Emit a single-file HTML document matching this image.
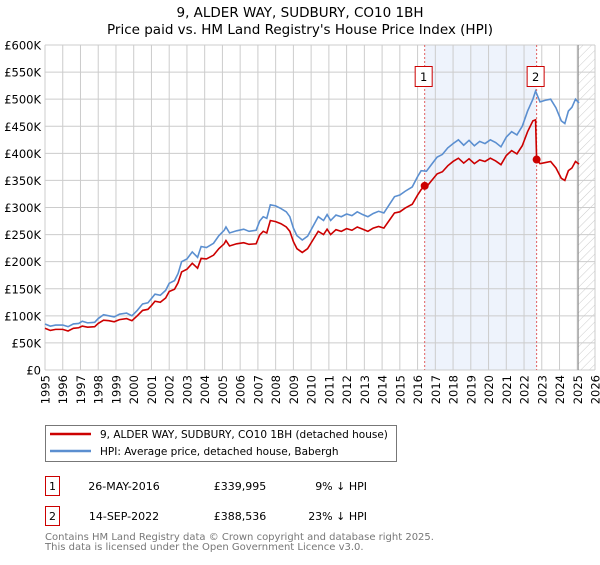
<!DOCTYPE html>
<html><head><meta charset="utf-8"><style>
body{margin:0;background:#fff;font-family:"Liberation Sans","DejaVu Sans",sans-serif}
svg text{font-family:"DejaVu Sans","Liberation Sans",sans-serif}
</style></head><body>
<svg id="chart" width="600" height="560" viewBox="0 0 600 560" xmlns="http://www.w3.org/2000/svg">
<defs><pattern id="hatch" width="6" height="6" patternUnits="userSpaceOnUse" patternTransform="rotate(45)"><line x1="0" y1="0" x2="0" y2="6" stroke="#ccc" stroke-width="1"/></pattern></defs>
<text x="300" y="17" text-anchor="middle" font-size="13.5" fill="#000">9, ALDER WAY, SUDBURY, CO10 1BH</text>
<text x="300" y="34" text-anchor="middle" font-size="13.5" fill="#000">Price paid vs. HM Land Registry's House Price Index (HPI)</text>
<g id="plot"></g>
<g>
<rect x="45.5" y="425.5" width="351" height="36" fill="#fff" stroke="#777"/>
<line x1="50" y1="434" x2="91" y2="434" stroke="#cc0000" stroke-width="2.5"/>
<text x="100" y="438" font-size="10.5">9, ALDER WAY, SUDBURY, CO10 1BH (detached house)</text>
<line x1="50" y1="451" x2="91" y2="451" stroke="#5b8fd0" stroke-width="2.5"/>
<text x="100" y="455" font-size="10.5">HPI: Average price, detached house, Babergh</text>
</g>
<g font-size="11">
<rect x="45.5" y="476.5" width="14" height="19" fill="#fff" stroke="#cc0000"/>
<text x="52.5" y="490" text-anchor="middle">1</text>
<text x="124" y="490" text-anchor="middle">26-MAY-2016</text>
<text x="240" y="490" text-anchor="middle">£339,995</text>
<text x="367" y="490" text-anchor="end">9% ↓ HPI</text>
<rect x="45.5" y="506.5" width="14" height="19" fill="#fff" stroke="#cc0000"/>
<text x="52.5" y="520" text-anchor="middle">2</text>
<text x="124" y="520" text-anchor="middle">14-SEP-2022</text>
<text x="240" y="520" text-anchor="middle">£388,536</text>
<text x="367" y="520" text-anchor="end">23% ↓ HPI</text>
</g>
<text x="45" y="540" font-size="10" fill="#777">Contains HM Land Registry data © Crown copyright and database right 2025.</text>
<text x="45" y="550" font-size="10" fill="#777">This data is licensed under the Open Government Licence v3.0.</text>
</svg>
<script>
const hpiYears=[1995.0,1995.3,1995.6,1996.0,1996.3,1996.6,1996.9,1997.1,1997.4,1997.8,1998.0,1998.3,1998.6,1998.9,1999.2,1999.6,1999.9,2000.2,2000.5,2000.8,2001.0,2001.2,2001.5,2001.8,2002.0,2002.3,2002.5,2002.7,2003.0,2003.3,2003.6,2003.8,2004.1,2004.5,2004.8,2005.1,2005.2,2005.4,2005.8,2006.2,2006.5,2006.9,2007.1,2007.3,2007.5,2007.7,2008.0,2008.3,2008.6,2008.8,2009.0,2009.2,2009.5,2009.8,2010.1,2010.4,2010.7,2010.9,2011.1,2011.4,2011.7,2012.0,2012.3,2012.6,2012.9,2013.2,2013.5,2013.8,2014.1,2014.4,2014.7,2015.0,2015.3,2015.7,2016.0,2016.2,2016.5,2016.8,2017.1,2017.4,2017.7,2018.0,2018.3,2018.6,2018.9,2019.2,2019.5,2019.8,2020.1,2020.4,2020.7,2021.0,2021.3,2021.6,2021.9,2022.2,2022.5,2022.65,2022.9,2023.2,2023.5,2023.8,2024.1,2024.3,2024.5,2024.7,2024.9,2025.1];
const hpiValues=[85,81,83,83,80,85,86,90,87,88,95,102,100,98,103,105,100,110,122,124,132,140,138,147,160,165,178,200,205,218,208,228,226,234,248,258,264,253,257,260,256,258,275,283,280,305,303,298,292,283,262,248,240,247,265,283,276,287,276,286,283,288,285,292,287,283,289,293,290,305,320,323,330,338,357,368,367,380,393,398,410,418,425,415,424,414,422,418,425,420,412,430,440,434,450,478,500,515,495,498,500,484,460,455,478,485,500,493];
const priceYears=[1995.0,1995.3,1995.6,1996.0,1996.3,1996.6,1996.9,1997.1,1997.4,1997.8,1998.0,1998.3,1998.6,1998.9,1999.2,1999.6,1999.9,2000.2,2000.5,2000.8,2001.0,2001.2,2001.5,2001.8,2002.0,2002.3,2002.5,2002.7,2003.0,2003.3,2003.6,2003.8,2004.1,2004.5,2004.8,2005.1,2005.2,2005.4,2005.8,2006.2,2006.5,2006.9,2007.1,2007.3,2007.5,2007.7,2008.0,2008.3,2008.6,2008.8,2009.0,2009.2,2009.5,2009.8,2010.1,2010.4,2010.7,2010.9,2011.1,2011.4,2011.7,2012.0,2012.3,2012.6,2012.9,2013.2,2013.5,2013.8,2014.1,2014.4,2014.7,2015.0,2015.3,2015.7,2016.0,2016.2,2016.4,2016.5,2016.8,2017.1,2017.4,2017.7,2018.0,2018.3,2018.6,2018.9,2019.2,2019.5,2019.8,2020.1,2020.4,2020.7,2021.0,2021.3,2021.6,2021.9,2022.2,2022.5,2022.65,2022.71,2022.9,2023.2,2023.5,2023.8,2024.1,2024.3,2024.5,2024.7,2024.9,2025.1];
const priceValues=[77,73,75,75,72,77,78,81,79,80,86,92,91,89,93,95,91,100,110,112,119,127,125,133,145,149,161,181,186,197,188,206,205,212,224,233,239,229,233,235,232,233,249,256,253,276,274,270,264,256,237,224,217,224,240,256,250,260,250,259,256,261,258,264,260,256,262,265,262,276,290,292,299,306,323,333,340,338,350,362,366,377,385,391,382,390,381,388,385,391,386,379,396,405,399,414,440,460,462,388.5,381,383,385,373,354,350,368,373,385,380];
const saleLabels=["1","2"];
const saleYears=[2016.4,2022.71];
const salePrices=[339.995,388.536];
const yTicks=[0,50,100,150,200,250,300,350,400,450,500,550,600];
const yTickLabels=["£0","£50K","£100K","£150K","£200K","£250K","£300K","£350K","£400K","£450K","£500K","£550K","£600K"];
const xTicks=[1995,1996,1997,1998,1999,2000,2001,2002,2003,2004,2005,2006,2007,2008,2009,2010,2011,2012,2013,2014,2015,2016,2017,2018,2019,2020,2021,2022,2023,2024,2025,2026];

const NS="http://www.w3.org/2000/svg";
const L=45,R=595,T=45,B=370;
const x=y=>L+(y-1995)*(R-L)/31;
const yv=v=>B-v*(B-T)/600;
const g=document.getElementById('plot');
function mk(tag,attrs,parent){const e=document.createElementNS(NS,tag);for(const k in attrs)e.setAttribute(k,attrs[k]);(parent||g).appendChild(e);return e;}

const shade=mk('rect',{x:x(saleYears[0]),y:T,width:x(saleYears[1])-x(saleYears[0]),height:B-T,fill:'#eef3fc'});


const hatch=mk('rect',{x:x(2025.05),y:T,width:R-x(2025.05),height:B-T,fill:'url(#hatch)'});



xTicks.forEach(t=>{
  const ln=mk('line',{x1:x(t),x2:x(t),y1:T,y2:B,stroke:'#ccc','stroke-width':1});
  
  
  const tx=mk('text',{transform:`translate(${x(t)+4.5},375) rotate(-90)`,'text-anchor':'end','font-size':11.5,fill:'#000'});
  tx.textContent=t;
  
  
});
yTicks.forEach((t,i)=>{
  const ln=mk('line',{x1:L,x2:R,y1:yv(t),y2:yv(t),stroke:'#ccc','stroke-width':1});
  
  
  const tx=mk('text',{x:41,y:yv(t)+4.5,'text-anchor':'end','font-size':11.5,fill:'#000'});
  tx.textContent=yTickLabels[i];
  
  
});
const nowLine=mk('line',{x1:x(2025.05),x2:x(2025.05),y1:T,y2:B,stroke:'#888','stroke-width':1});



saleYears.forEach((s,i)=>{
  const ln=mk('line',{x1:x(s),x2:x(s),y1:T,y2:B,stroke:'#e06060','stroke-width':1,'stroke-dasharray':'2,2'});
  
  
});

const hp=mk('polyline',{points:hpiYears.map((t,i)=>x(t)+','+yv(hpiValues[i])).join(' '),fill:'none',stroke:'#5b8fd0','stroke-width':1.6});


const pp=mk('polyline',{points:priceYears.map((t,i)=>x(t)+','+yv(priceValues[i])).join(' '),fill:'none',stroke:'#cc0000','stroke-width':1.6});



saleYears.forEach((s,i)=>{
  const c=mk('circle',{cx:x(s),cy:yv(salePrices[i]),r:4,fill:'#cc0000'});
  
  
  const bx=x(s)-9;
  const r=mk('rect',{x:bx-0.5,y:66.5,width:17,height:20,fill:'#fff',stroke:'#cc0000'});
  
  
  const tx=mk('text',{x:bx+8,y:81,'text-anchor':'middle','font-size':11.5});
  tx.textContent=saleLabels[i];
  
  
});
</script>
</body></html>
